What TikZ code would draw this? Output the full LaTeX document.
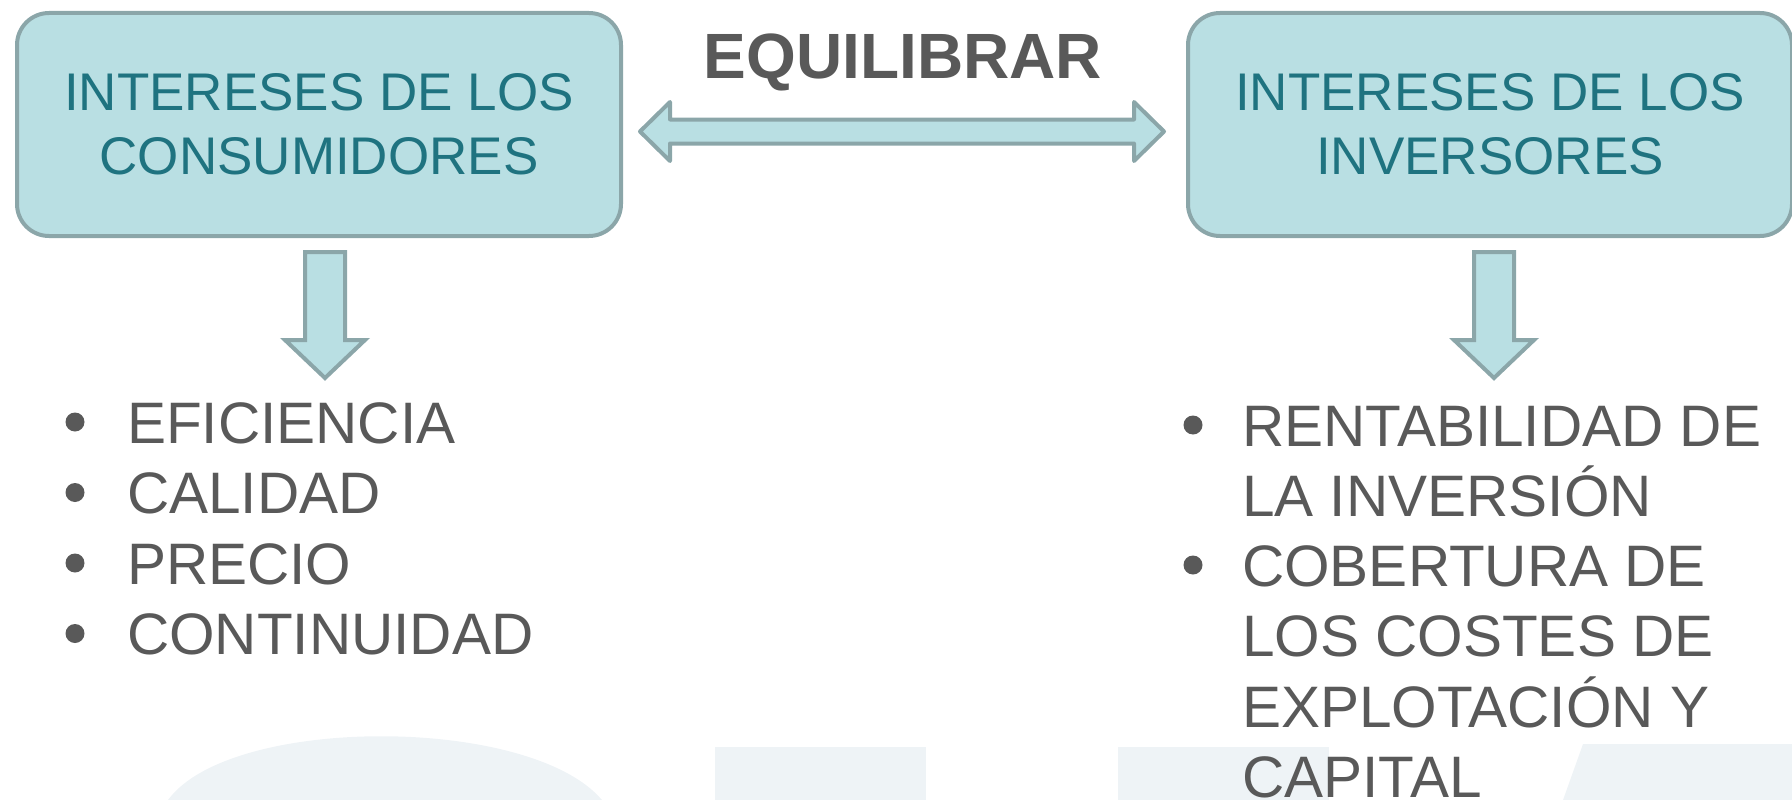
\documentclass[tikz,border=0pt]{standalone}
\usepackage{fontspec}
\setmainfont{Liberation Sans}
\usetikzlibrary{calc}
\definecolor{boxfill}{HTML}{B9DFE3}
\definecolor{boxline}{HTML}{8BA6A9}
\definecolor{boxtext}{HTML}{1F7380}
\definecolor{graytext}{HTML}{595959}
\definecolor{wm}{HTML}{EEF3F6}
\begin{document}
\begin{tikzpicture}[x=1pt,y=-1pt,
  interest/.style={draw=boxline, line width=4pt, fill=boxfill, rounded corners=32pt,
    minimum width=604pt, minimum height=223pt, text=boxtext,
    font=\fontsize{53}{64}\selectfont, align=center, inner sep=0pt},
  fatarrow/.style={draw=boxline, line width=4pt, fill=boxfill},
  itemtext/.style={anchor=base west, text=graytext, font=\fontsize{58.5}{70}\selectfont, inner sep=0pt},
  bulletdot/.style={fill=graytext, circle, inner sep=0pt, minimum size=19pt},
  titletext/.style={anchor=base, text=graytext, font=\fontsize{64}{70}\selectfont\bfseries, inner sep=0pt},
  watermark/.style={fill=wm}]
\useasboundingbox (0,0) rectangle (1792,800);
% background watermark shapes
\fill[watermark] (168,800) .. controls (230,715) and (530,715) .. (602,800) -- cycle;
\fill[watermark] (715,747) rectangle (926,800);
\fill[watermark] (1118,747) rectangle (1329,800);
\fill[watermark] (1563,800) -- (1583,744) -- (1792,744) -- (1792,800) -- cycle;
% boxes
\node[interest] (cons) at (319,124.5) {INTERESES DE LOS\\CONSUMIDORES};
\node[interest] (inv) at (1490,124.5) {INTERESES DE LOS\\INVERSORES};
% double arrow
\coordinate (tipL) at (640,131.5);
\coordinate (tipR) at (1164,131.5);
\draw[fatarrow, line join=round]
  (tipL) -- ($(tipL)+(30,-29.5)$) -- ($(tipL)+(30,-12)$) -- ($(tipR)+(-30,-12)$)
  -- ($(tipR)+(-30,-29.5)$) -- (tipR) -- ($(tipR)+(-30,29.5)$) -- ($(tipR)+(-30,12)$)
  -- ($(tipL)+(30,12)$) -- ($(tipL)+(30,29.5)$) -- cycle;
\node[titletext] (eq) at (903,78) {EQUILIBRAR};
% down arrows
\coordinate (dl) at (325,252);
\coordinate (dr) at (1494,252);
\foreach \c in {dl,dr}{
  \draw[fatarrow]
    ($(\c)+(-20,0)$) -- ($(\c)+(20,0)$) -- ($(\c)+(20,88)$) -- ($(\c)+(40,88)$)
    -- ($(\c)+(0,126)$) -- ($(\c)+(-40,88)$) -- ($(\c)+(-20,88)$) -- cycle;
}
% left list
\node[bulletdot] (b1) at (75,422) {};
\node[bulletdot] (b2) at (75,492.5) {};
\node[bulletdot] (b3) at (75,563) {};
\node[bulletdot] (b4) at (75,633.5) {};
\node[itemtext] (t1) at (127,443) {EFICIENCIA};
\node[itemtext] (t2) at (127,513.5) {CALIDAD};
\node[itemtext] (t3) at (127,584) {PRECIO};
\node[itemtext] (t4) at (127,654.5) {CONTINUIDAD};
% right list
\node[bulletdot] (r1) at (1193,425) {};
\node[bulletdot] (r2) at (1193,565) {};
\node[itemtext] (s1) at (1242,446) {RENTABILIDAD DE};
\node[itemtext] (s2) at (1242,516) {LA INVERSIÓN};
\node[itemtext] (s3) at (1242,586) {COBERTURA DE};
\node[itemtext] (s4) at (1242,656.5) {LOS COSTES DE};
\node[itemtext] (s5) at (1242,727) {EXPLOTACIÓN Y};
\node[itemtext] (s6) at (1242,797) {CAPITAL};
\end{tikzpicture}
\end{document}
